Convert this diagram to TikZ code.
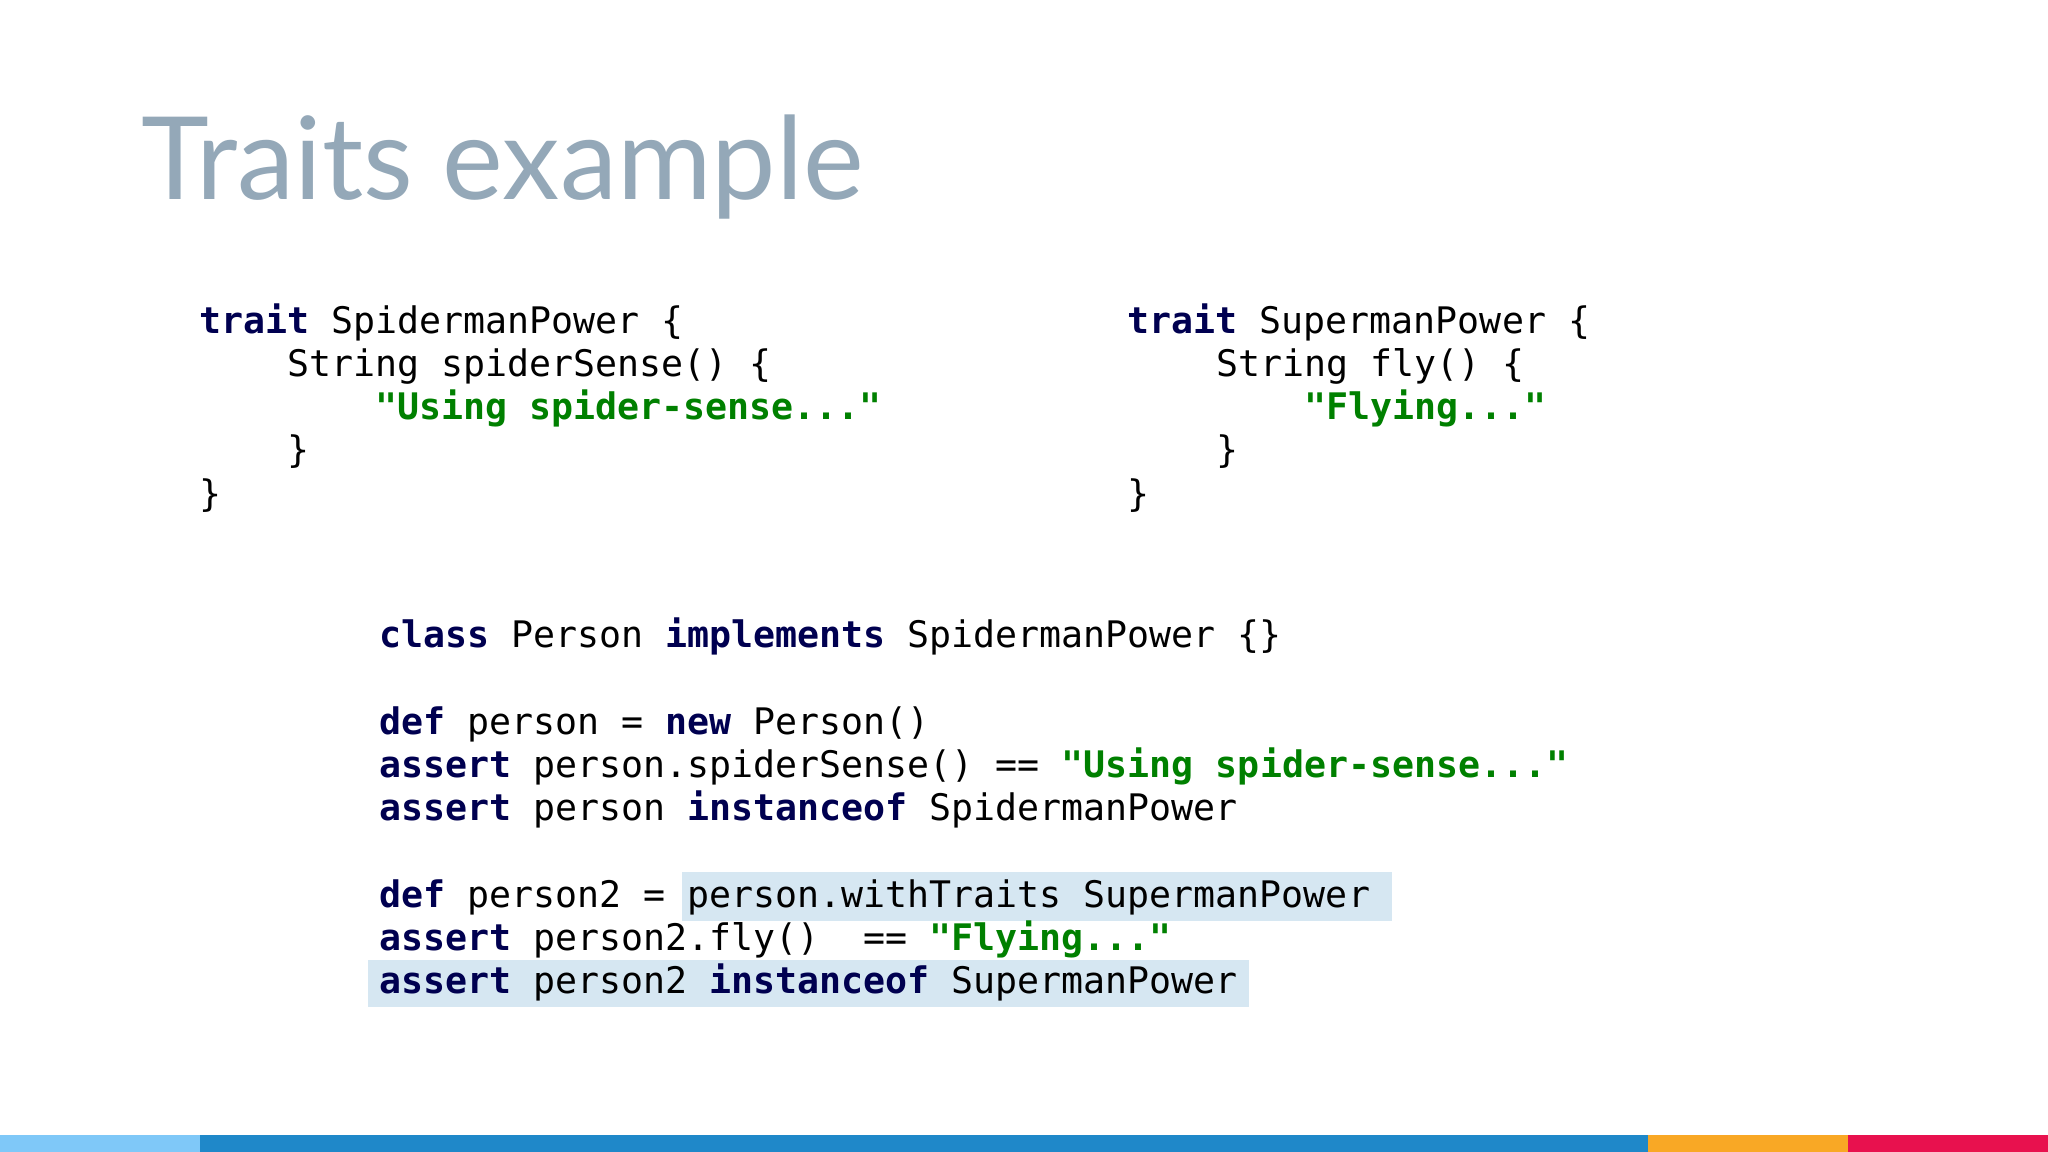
\documentclass[tikz,border=0pt]{standalone}
\usepackage{fontspec}
\setmonofont{DejaVu Sans Mono}
\newfontfamily\titlefont{Lato}
\definecolor{kw}{HTML}{000050}
\definecolor{str}{HTML}{008000}
\definecolor{hl}{HTML}{D6E7F2}
\definecolor{titlec}{HTML}{94A8B8}
\newcommand{\kw}[1]{\textbf{\color{kw}#1}}
\newcommand{\str}[1]{\textbf{\color{str}#1}}
\begin{document}
\begin{tikzpicture}[x=0.5pt,y=-0.5pt,
  code/.style={anchor=base west,inner sep=0pt,font=\fontsize{14pt}{16pt}\ttfamily,text=black},
  hlbox/.style={fill=hl,draw=none}]
\useasboundingbox (0,0) rectangle (1568,882);
\fill[white] (0,0) rectangle (1568,882);
\node[anchor=base west,inner sep=0pt,text=titlec,font=\fontsize{44pt}{50pt}\titlefont] (title) at (108,153) {Traits example};
% highlights
\fill[hlbox] (522,668) rectangle (1066,705);
\fill[hlbox] (282,735) rectangle (956,771);
% left trait
\node[code] (l1) at (152,255) {\kw{trait} SpidermanPower \{};
\node[code] (l2) at (219.6,288) {String spiderSense() \{};
\node[code] (l3) at (287.2,321) {\str{"Using spider-sense..."}};
\node[code] (l4) at (219.6,354) {\}};
\node[code] (l5) at (152,388) {\}};
% right trait
\node[code] (r1) at (863,255) {\kw{trait} SupermanPower \{};
\node[code] (r2) at (930.6,288) {String fly() \{};
\node[code] (r3) at (998.2,321) {\str{"Flying..."}};
\node[code] (r4) at (930.6,354) {\}};
\node[code] (r5) at (863,388) {\}};
% bottom
\node[code] (b1) at (290,496) {\kw{class} Person \kw{implements} SpidermanPower \{\}};
\node[code] (b2) at (290,562) {\kw{def} person = \kw{new} Person()};
\node[code] (b3) at (290,595) {\kw{assert} person.spiderSense() == \str{"Using spider-sense..."}};
\node[code] (b4) at (290,628) {\kw{assert} person \kw{instanceof} SpidermanPower};
\node[code] (b5) at (290,695) {\kw{def} person2 = person.withTraits SupermanPower};
\node[code] (b6) at (290,728) {\kw{assert} person2.fly()\ \ == \str{"Flying..."}};
\node[code] (b7) at (290,761) {\kw{assert} person2 \kw{instanceof} SupermanPower};
% bottom bar
\fill[fill={rgb,255:red,127;green,200;blue,248}] (0,869) rectangle (153,882);
\fill[fill={rgb,255:red,31;green,136;blue,201}] (153,869) rectangle (1262,882);
\fill[fill={rgb,255:red,249;green,168;blue,37}] (1262,869) rectangle (1415,882);
\fill[fill={rgb,255:red,232;green,17;blue,78}] (1415,869) rectangle (1568,882);
\end{tikzpicture}
\end{document}
